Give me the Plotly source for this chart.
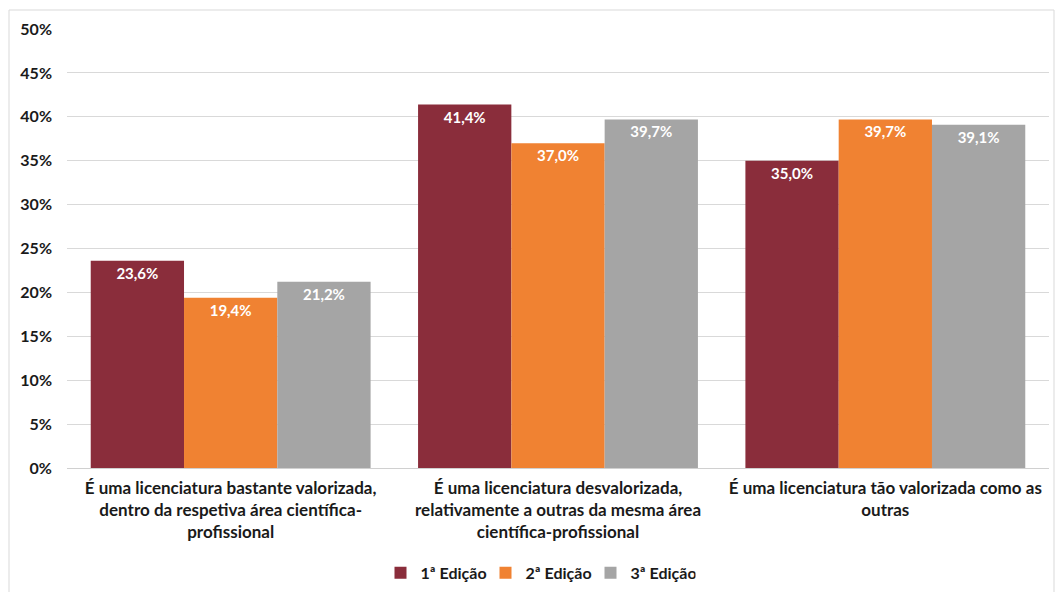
import plotly.graph_objects as go

# categories and values (percent)
categories = [
    "É uma licenciatura bastante valorizada,<br>dentro da respetiva área científica-<br>profissional",
    "É uma licenciatura desvalorizada,<br>relativamente a outras da mesma área<br>científica-profissional",
    "É uma licenciatura tão valorizada como as<br>outras",
]
series_names = ["1ª Edição", "2ª Edição", "3ª Edição"]
edicao_1 = [23.6, 41.4, 35.0]
edicao_2 = [19.4, 37.0, 39.7]
edicao_3 = [21.2, 39.7, 39.1]
y_ticks = [0, 5, 10, 15, 20, 25, 30, 35, 40, 45, 50]

COLORS = ["#8A2D3B", "#F08232", "#A5A5A5"]
FONT = "Lato, 'Open Sans', sans-serif"

W, H = 1056, 592
ML, MR, MT, MB = 67, 7, 29, 124
PW, PH = W - ML - MR, H - MT - MB

fig = go.Figure()
for name, vals, color in zip(series_names, [edicao_1, edicao_2, edicao_3], COLORS):
    fig.add_trace(go.Bar(
        x=categories,
        y=vals,
        name=name,
        marker=dict(color=color, line=dict(width=0)),
        text=[f"{v:.1f}%".replace(".", ",") for v in vals],
        textposition="inside",
        insidetextanchor="end",
        textangle=0,
        textfont=dict(color="white", size=15, family=FONT, weight="bold"),
        hovertemplate="%{y:.1f}%<extra>" + name + "</extra>",
    ))

# outer chart border
fig.add_shape(
    type="rect", xref="paper", yref="paper",
    x0=(9 - ML) / PW, x1=(1054 - ML) / PW,
    y0=(H - MB - 595) / PH, y1=(H - MB - 10) / PH,
    line=dict(color="#D9D9D9", width=1), layer="below",
)

fig.update_layout(
    width=W, height=H,
    margin=dict(l=ML, r=MR, t=MT, b=MB, autoexpand=False),
    paper_bgcolor="white",
    plot_bgcolor="white",
    barmode="group",
    bargap=0.145,
    bargroupgap=0,
    font=dict(family=FONT, size=16, color="#1a1a1a"),
    showlegend=True,
    legend=dict(
        orientation="h", x=(538 - ML) / PW, xanchor="center", y=-0.2, yanchor="top",
        font=dict(size=16, family=FONT, weight="bold", color="#1a1a1a"),
        itemwidth=30, entrywidth=60, entrywidthmode="pixels", traceorder="normal",
    ),
    xaxis=dict(
        showgrid=False, showline=False, ticks="", automargin=False,
        ticklabelstandoff=8,
        tickfont=dict(size=17, family=FONT, weight="bold", color="#1a1a1a"),
    ),
    yaxis=dict(
        range=[0, 50], tickvals=y_ticks, ticktext=[f"{t}%" for t in y_ticks],
        showgrid=True, gridcolor="#D9D9D9", gridwidth=1,
        zeroline=True, zerolinecolor="#D0D0D0", zerolinewidth=1,
        showline=False, ticks="", ticklabelstandoff=14, automargin=False,
        tickfont=dict(size=16, family=FONT, weight="bold", color="#1a1a1a"),
    ),
)

fig.write_html(
    "out.html",
    config={"displayModeBar": False},
    post_script="document.body.style.margin='0';",
)
